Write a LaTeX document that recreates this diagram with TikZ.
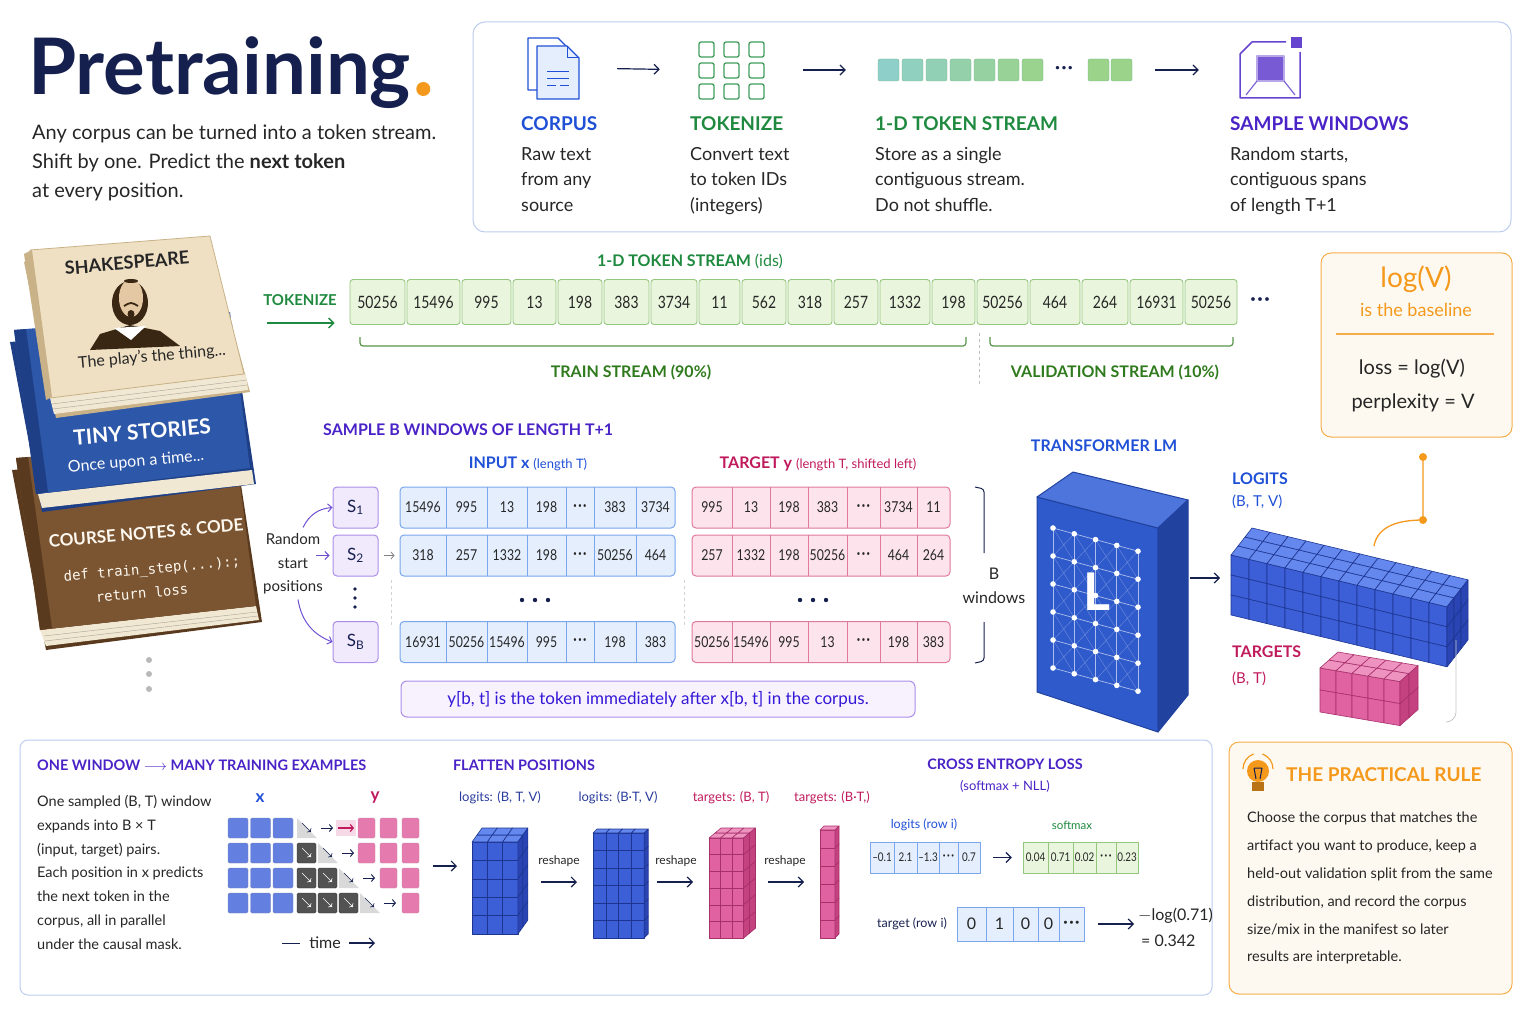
\documentclass[tikz,border=0pt]{standalone}
\usepackage{fontspec}
\setmainfont{Lato}
\setmonofont{DejaVu Sans Mono}
\newfontfamily\narrow{Lato}[FakeStretch=0.82]
\usetikzlibrary{arrows,arrows.meta,shapes.geometric,positioning}

\definecolor{navy}{HTML}{16204E}
\definecolor{ink}{HTML}{262626}
\definecolor{cblue}{HTML}{1F50D6}
\definecolor{lblue}{HTML}{2A3C9E}
\definecolor{cgreen}{HTML}{1F8A3F}
\definecolor{dgreen}{HTML}{2F7A1C}
\definecolor{cpurple}{HTML}{4A23C6}
\definecolor{cmag}{HTML}{C01A5C}
\definecolor{corange}{HTML}{F4991C}
\definecolor{panel}{HTML}{BCCDEF}
\definecolor{tokfill}{HTML}{E9F5DC}
\definecolor{tokline}{HTML}{94C77E}
\definecolor{infill}{HTML}{E4EEFD}
\definecolor{inline}{HTML}{79A6EC}
\definecolor{tgfill}{HTML}{FCE3EC}
\definecolor{tgline}{HTML}{E1799F}
\definecolor{sfill}{HTML}{F1EAFD}
\definecolor{sline}{HTML}{AB8DE8}
\definecolor{cream}{HTML}{FEF9F0}
\definecolor{bfront}{HTML}{3C5FD8}
\definecolor{btop}{HTML}{6588EE}
\definecolor{bside}{HTML}{2A45B3}
\definecolor{bline}{HTML}{1D3591}
\definecolor{pfront}{HTML}{E062A0}
\definecolor{ptop}{HTML}{EE92C0}
\definecolor{pside}{HTML}{C4427F}
\definecolor{pline}{HTML}{A8306A}
\definecolor{tfront}{HTML}{2F5ACB}
\definecolor{ttop}{HTML}{4E75DC}
\definecolor{tside}{HTML}{21429F}
\definecolor{bbrown}{HTML}{7B5431}
\definecolor{bbrownd}{HTML}{5A3A1E}
\definecolor{bblue}{HTML}{2D57A8}
\definecolor{bblued}{HTML}{1E3F86}
\definecolor{tanc}{HTML}{EFE0C4}
\definecolor{tand}{HTML}{C9B287}
\definecolor{page}{HTML}{F1E8D3}
\definecolor{stA}{HTML}{8ECFC9}
\definecolor{stB}{HTML}{9BD38A}

\newcommand{\fsz}[2]{\fontsize{#1}{#2}\selectfont}
\newcommand{\mdots}{{\bfseries ·\kern1.5pt·\kern1.5pt·}}
% cube colours and skew, set before each \cubes
\def\cF{bfront}\def\cT{btop}\def\cS{bside}\def\cL{bline}\def\csk{0}
% origin x, origin y, cols, rows, depth, width, height, depth dx, depth dy
\newcommand{\cubes}[9]{%
  \foreach \i in {1,...,#3}{\foreach \j in {1,...,#4}{
    \filldraw[fill=\cF,draw=\cL,line width=0.6] ({#1+(\i-1)*#6},{#2+(\i-1)*#6*\csk+(\j-1)*#7}) -- ++({#6},{#6*\csk}) -- ++(0,{#7}) -- ++({-1*(#6)},{-1*(#6)*\csk}) -- cycle;}}
  \foreach \i in {1,...,#3}{\foreach \k in {1,...,#5}{
    \filldraw[fill=\cT,draw=\cL,line width=0.6] ({#1+(\i-1)*#6+(\k-1)*#8},{#2+(\i-1)*#6*\csk+(\k-1)*#9}) -- ++({#6},{#6*\csk}) -- ++({#8},{#9}) -- ++({-1*(#6)},{-1*(#6)*\csk}) -- cycle;}}
  \foreach \j in {1,...,#4}{\foreach \k in {1,...,#5}{
    \filldraw[fill=\cS,draw=\cL,line width=0.6] ({#1+#3*#6+(\k-1)*#8},{#2+#3*#6*\csk+(\j-1)*#7+(\k-1)*#9}) -- ++({#8},{#9}) -- ++(0,{#7}) -- ++({-1*(#8)},{-1*(#9)}) -- cycle;}}
}

\tikzset{
  head/.style={inner sep=0, font=\bfseries\fsz{19}{19}},
  desc/.style={inner sep=0, anchor=north west, align=left, text=ink, font=\fsz{18}{25.5}},
  subhead/.style={inner sep=0, font=\bfseries\fsz{16}{16}},
  tok/.style={draw=tokline, fill=tokfill, line width=0.9, rounded corners=3, minimum height=45, inner sep=0, font=\narrow\fsz{17}{17}, text=ink},
  sbox/.style={draw=sline, fill=sfill, line width=1, rounded corners=4, minimum width=45, minimum height=41, inner sep=0, font=\fsz{17}{17}, text=navy},
  inrow/.style={draw=inline, fill=infill, line width=1, rounded corners=4, minimum height=41, inner sep=0},
  tgrow/.style={draw=tgline, fill=tgfill, line width=1, rounded corners=4, minimum height=41, inner sep=0},
  num/.style={inner sep=0, font=\narrow\fsz{15}{15}, text=ink},
  arr/.style={-{Straight Barb[length=5pt,width=10pt]}, navy, line width=1.2},
  icon/.style={inner sep=0, minimum height=60, minimum width=#1},
}

\begin{document}
\begin{tikzpicture}[x=1pt,y=-1pt,line join=round]
\useasboundingbox (0,0) rectangle (1536,1024);

% title
\node[anchor=base west, inner sep=0, text=navy, font=\bfseries\fsz{78}{78}] (title) at (28,95) {Pretraining};
\fill[corange] (title.base east) ++(12,-6) circle (7);
\node[anchor=north west, inner sep=0, align=left, text=ink, font=\fsz{20}{29}] (subt) at (32,125) {Any corpus can be turned into a token stream.\\Shift by one. Predict the \textbf{next token}\\at every position.};

% top pipeline panel
\draw[panel, line width=1, rounded corners=12] (473,22) rectangle (1511,232);
\node[icon=52] (icCorpus) at (553,68) {};
\filldraw[fill=white, draw=cblue, line width=1.2] (528,38) -- (558,38) -- (568,48) -- (568,90) -- (528,90) -- cycle;
\filldraw[fill=infill, draw=cblue, line width=1.2] (537,46) -- (567,46) -- (579,58) -- (579,99) -- (537,99) -- cycle;
\draw[cblue, line width=1] (567,46) -- (567,58) -- (579,58);
\draw[cblue, line width=1] (547,72) -- (569,72) (547,79) -- (569,79) (547,86) -- (556,86) (560,86) -- (569,86);
\node[icon=66] (icTok) at (732,70) {};
\foreach \c in {0,1,2} \foreach \r in {0,1,2}
  \draw[cgreen!85, line width=1.3, rounded corners=2] ({699+25*\c},{42+21*\r}) rectangle ++(15,15);
\node[icon=254] (icStream) at (1005,70) {};
\foreach \k [evaluate=\k as \p using 100-16*\k] in {0,...,6}
  \filldraw[fill=stA!\p!stB, draw=cgreen!60, rounded corners=2] ({878+24*\k},59) rectangle ++(21,22);
\node[inner sep=0, font=\fsz{18}{18}, text=navy] (sdots) at (1064,70) {\mdots};
\foreach \k in {0,1}
  \filldraw[fill=stB, draw=cgreen!60, rounded corners=2] ({1088+23*\k},59) rectangle ++(21,22);
\node[icon=62] (icWin) at (1271,70) {};
\draw[cpurple!85, line width=1.5] (1252,42) -- (1286,42) (1240,54) -- (1252,42) (1240,54) -- (1240,98) -- (1300,98) -- (1300,52);
\fill[cpurple!85] (1291,37) rectangle (1302,48);
\filldraw[fill=cpurple!75, draw=cpurple!40, line width=2] (1257,56) rectangle (1284,81);
\draw[cpurple!70, line width=1.2] (1257,81) -- (1246,95) (1284,81) -- (1295,95);
\draw[arr, shorten <=38, shorten >=39] (icCorpus.east) -- (icTok.west);
\draw[arr, shorten <=38, shorten >=32] (icTok.east) -- (icStream.west);
\draw[arr, shorten <=23, shorten >=41] (icStream.east) -- (icWin.west);
\node[head, text=cblue, anchor=west] (hCorpus) at (521,124) {CORPUS};
\node[head, text=cgreen, anchor=west] (hTok) at (690,124) {TOKENIZE};
\node[head, text=cgreen, anchor=west] (hStream) at (875,124) {1-D TOKEN STREAM};
\node[head, text=cpurple, anchor=west] (hWin) at (1230,124) {SAMPLE WINDOWS};
\node[desc] (dCorpus) at (521,147) {Raw text\\from any\\source};
\node[desc] (dTok) at (690,147) {Convert text\\to token IDs\\(integers)};
\node[desc] (dStream) at (875,147) {Store as a single\\contiguous stream.\\Do not shuffle.};
\node[desc] (dWin) at (1230,147) {Random starts,\\contiguous spans\\of length T+1};

% books
\fill[bbrownd] (12,470) -- (236,452) -- (262,622) -- (46,650) -- cycle;
\fill[page] (40,630) -- (256,606) -- (259,620) -- (46,646) -- cycle;
\draw[page!70!black, line width=.4] (44,636) -- (257,612) (45,641) -- (258,616);
\fill[bbrown] (16,458) -- (234,440) -- (256,606) -- (40,630) -- cycle;
\fill[bbrownd] (16,458) -- (28,457) -- (52,628) -- (40,630) -- cycle;
\node[rotate=5, inner sep=0, font=\bfseries\fsz{17}{17}, text=cream] (bkCode) at (146,533) {COURSE NOTES \& CODE};
\node[rotate=5, inner sep=0, font=\ttfamily\fsz{14}{14}, text=cream] (bkDef) at (152,570) {def train\_step(...):;};
\node[rotate=5, inner sep=0, font=\ttfamily\fsz{14}{14}, text=cream] (bkRet) at (142,593) {return loss};
\fill[bblued] (10,342) -- (232,324) -- (256,484) -- (42,512) -- cycle;
\fill[page] (38,494) -- (252,470) -- (254,484) -- (42,508) -- cycle;
\fill[bblue] (14,330) -- (230,312) -- (250,468) -- (36,494) -- cycle;
\fill[bblued] (14,330) -- (26,329) -- (48,492) -- (36,494) -- cycle;
\node[rotate=5, inner sep=0, font=\bfseries\fsz{21}{21}, text=white] (bkTiny) at (142,432) {TINY STORIES};
\node[rotate=5, inner sep=0, font=\fsz{16}{16}, text=white] (bkOnce) at (136,462) {Once upon a time...};
\fill[tand] (24,262) -- (210,246) -- (250,392) -- (56,418) -- cycle;
\fill[page] (50,398) -- (246,374) -- (248,390) -- (54,414) -- cycle;
\draw[page!70!black, line width=.4] (52,404) -- (247,380) (53,409) -- (247,385);
\filldraw[fill=tanc, draw=tand, line width=.8] (30,250) -- (210,236) -- (244,374) -- (50,398) -- cycle;
\fill[tand] (24,254) -- (32,250) -- (52,397) -- (46,400) -- cycle;
\node[rotate=5, inner sep=0, font=\bfseries\fsz{18}{18}, text=black!85] (bkShake) at (127,263) {SHAKESPEARE};
\fill[black!70!brown] (90,350) -- (100,334) -- (130,325) -- (160,331) -- (180,346) -- cycle;
\fill[black!70!brown] (130,303) ellipse (18 and 22);
\fill[tanc!75!brown] (131,298) ellipse (12 and 19);
\fill[black!70!brown] (131,281) ellipse (7 and 2);
\fill[white] (114,328) -- (146,326) -- (131,340) -- cycle;
\draw[black!70!brown, line width=1.8] (124,306) .. controls (131,302) .. (138,306);
\fill[black!70!brown] (131,314) ellipse (3.5 and 4);
\node[rotate=5, inner sep=0, font=\fsz{16}{16}, text=black!85] (bkPlay) at (152,357) {The play's the thing...};
\foreach \yy in {660,674,689} \fill[gray!55] (149,\yy) circle (3);

% token stream
\node[subhead, text=cgreen] (hIds) at (690,261) {1-D TOKEN STREAM \mdseries(ids)};
\node[inner sep=0, font=\bfseries\fsz{15}{15}, text=cgreen] (tokl) at (300,300) {TOKENIZE};
\foreach \a/\b/\l [count=\i] in {350/405/50256,407/460/15496,462/511/995,513/556/13,558/602/198,604/649/383,651/697/3734,699/740/11,742/786/562,788/832/318,834/878/257,880/930/1332,932/975/198,977/1028/50256,1030/1080/464,1082/1128/264,1130/1183/16931,1185/1237/50256}
  \node[tok, minimum width=\b-\a] (t\i) at ({(\a+\b)/2},302) {\l};
\node[inner sep=0, font=\fsz{20}{20}, text=navy] (tdots) at (1260,302) {\mdots};
\draw[-{Straight Barb[length=5pt,width=10pt]}, cgreen, line width=1.3, shorten >=15] (267,323) -- (t1.west |- 0,323);
\draw[dgreen!80, line width=1.2, rounded corners=3] (360,337) -- (360,346) -- (966,346) -- (966,337);
\draw[dgreen!80, line width=1.2, rounded corners=3] (990,337) -- (990,346) -- (1233,346) -- (1233,337);
\draw[gray!50, dashed, line width=.8] (979,333) -- (979,386);
\node[subhead, text=dgreen] (hTrain) at (631,372) {TRAIN STREAM (90\%)};
\node[subhead, text=dgreen] (hVal) at (1115,372) {VALIDATION STREAM (10\%)};

% baseline box
\filldraw[fill=cream, draw=corange!80, line width=1, rounded corners=10] (1321,253) rectangle (1512,437);
\node[inner sep=0, font=\fsz{28}{28}, text=corange] (logv) at (1416,279) {log(V)};
\node[inner sep=0, font=\fsz{18}{18}, text=corange] (logb) at (1416,310) {is the baseline};
\draw[corange!80, line width=1.2] (1336,334) -- (1494,334);
\node[inner sep=0, font=\fsz{20}{20}, text=ink] (lossv) at (1412,369) {loss = log(V)};
\node[inner sep=0, font=\fsz{20}{20}, text=ink] (pplv) at (1413,403) {perplexity = V};

% sample windows
\node[subhead, text=cpurple, anchor=west] (hSample) at (323,430) {SAMPLE B WINDOWS OF LENGTH T+1};
\node[inner sep=0, text=cblue] (hIn) at (528,464) {\bfseries\fsz{16}{16}INPUT x \mdseries\fsz{13}{13}(length T)};
\node[inner sep=0, text=cmag] (hTg) at (818,464) {\bfseries\fsz{16}{16}TARGET y \mdseries\fsz{13}{13}(length T, shifted left)};
\node[sbox] (s1) at (355.5,507.5) {S\textsubscript{1}};
\node[sbox] (s2) at (355.5,555.5) {S\textsubscript{2}};
\node[sbox] (s3) at (355.5,642) {S\textsubscript{B}};
\foreach \yy in {589,598,607} \fill[navy] (355,\yy) circle (1.8);
\node[inner sep=0, align=center, font=\fsz{15}{23.5}, text=ink] (rsp) at (293,564) {Random\\start\\positions};
\draw[-{Straight Barb[length=4pt,width=8pt]}, cpurple!80, line width=1] ([xshift=10,yshift=6]rsp.north) to[bend left=30] (s1.west);
\draw[-{Straight Barb[length=4pt,width=8pt]}, cpurple!80, line width=1, shorten >=3] ([xshift=-7]rsp.east |- s2.west) -- (s2.west);
\draw[-{Straight Barb[length=4pt,width=8pt]}, cpurple!80, line width=1] ([xshift=5,yshift=-5]rsp.south) to[bend right=30] (s3.west);
\foreach \r/\yy/\la/\lb/\lc/\ld/\le/\lf in {1/507.5/15496/995/13/198/383/3734, 2/555.5/318/257/1332/198/50256/464, 3/642/16931/50256/15496/995/198/383}{
  \node[inrow, minimum width=275] (x\r) at (537.5,\yy) {};
  \foreach \ex in {446,487,527,566,594,636} \draw[inline] (\ex,\yy-20.5) -- (\ex,\yy+20.5);
  \foreach \cx/\tx in {423/\la,466.5/\lb,507/\lc,546.5/\ld,580/\mdots,615/\le,655.5/\lf}
    \node[num] at (\cx,\yy) {\tx};
}
\foreach \r/\yy/\la/\lb/\lc/\ld/\le/\lf in {1/507.5/995/13/198/383/3734/11, 2/555.5/257/1332/198/50256/464/264, 3/642/50256/15496/995/13/198/383}{
  \node[tgrow, minimum width=258] (y\r) at (821,\yy) {};
  \foreach \ex in {732,770,808,847,880,917} \draw[tgline] (\ex,\yy-20.5) -- (\ex,\yy+20.5);
  \foreach \cx/\tx in {712/\la,751/\lb,789/\lc,827.5/\ld,863.5/\mdots,898.5/\le,933.5/\lf}
    \node[num] at (\cx,\yy) {\tx};
}
\draw[-{Straight Barb[length=3pt,width=7pt]}, gray, line width=.8, shorten <=5, shorten >=5] (s2.east) -- (x2.west);
\foreach \xx in {522,535,548} \fill[navy] (\xx,600) circle (2.2);
\foreach \xx in {800,813,826} \fill[navy] (\xx,600) circle (2.2);
\draw[gray!35, dashed, line width=.8] (391,580) -- (391,628) (684,580) -- (684,628);
\draw[navy, line width=1, rounded corners=3] (975,487) -- (984,489) -- (984,553) (984,622) -- (984,661) -- (975,663);
\node[inner sep=0, align=center, font=\fsz{16}{24}, text=ink] (bwin) at (994,586) {B\\windows};
\node[draw=sline, fill=sfill!60, rounded corners=6, minimum width=514, minimum height=36, line width=1, text=cpurple!70!blue, font=\fsz{17}{17}] (note) at (658,699) {y[b, t] is the token immediately after x[b, t] in the corpus.};

% transformer
\node[subhead, text=cblue] (hTf) at (1104,446) {TRANSFORMER LM};
\filldraw[fill=tfront, draw=tside, line width=1] (1037,497) -- (1158,528) -- (1158,732) -- (1037,692) -- cycle;
\filldraw[fill=ttop, draw=tside, line width=1] (1037,497) -- (1073,472) -- (1188,500) -- (1158,528) -- cycle;
\filldraw[fill=tside, draw=tside, line width=1] (1158,528) -- (1188,500) -- (1188,695) -- (1158,732) -- cycle;
\foreach \i in {0,...,4} \foreach \j in {0,...,5} \coordinate (g\i\j) at ({1053+21.25*\i},{528+28*\j+5.8*\i});
\foreach \i in {0,...,3} \foreach \j in {0,...,4} {
  \pgfmathtruncatemacro\ii{\i+1}\pgfmathtruncatemacro\jj{\j+1}
  \draw[white, opacity=.3, line width=.4] (g\i\j) -- (g\ii\jj) (g\ii\j) -- (g\i\jj);}
\foreach \i in {0,...,4} \draw[white, opacity=.6, line width=.7] (g\i0) -- (g\i5);
\foreach \j in {0,...,5} \draw[white, opacity=.6, line width=.7] (g0\j) -- (g4\j);
\foreach \i in {0,...,4} \foreach \j in {0,...,5} \fill[white] (g\i\j) circle (2.8);
\node[inner sep=0, font=\bfseries\fsz{52}{52}, text=white] (tfL) at (1097,592) {L};
\coordinate (tfR) at (1190,578);
\coordinate (lgL) at (1220,578);
\draw[arr] (tfR) -- (lgL);

% logits and targets
\node[inner sep=0, anchor=west, font=\bfseries\fsz{16}{16}, text=cblue] (hLog) at (1232,479) {LOGITS};
\node[inner sep=0, anchor=west, font=\fsz{15}{15}, text=cblue] (hLogS) at (1232,502) {(B, T, V)};
\def\csk{0.24}
\cubes{1231}{555}{12}{3}{3}{18}{20}{7}{-9}
\node[inner sep=0, anchor=west, font=\bfseries\fsz{16}{16}, text=cmag] (hTgt) at (1232,652) {TARGETS};
\node[inner sep=0, anchor=west, font=\fsz{15}{15}, text=cmag] (hTgtS) at (1232,679) {(B, T)};
\def\cF{pfront}\def\cT{ptop}\def\cS{pside}\def\cL{pline}\def\csk{0.17}
\cubes{1320}{668}{5}{2}{2}{16}{22}{9}{-8}
\fill[corange] (1423,457) circle (4);
\fill[corange] (1423,520) circle (4);
\draw[corange, line width=1.3] (1423,457) -- (1423,520) to[out=180,in=80] (1374,546);
\draw[gray!45, line width=.8] (1456,640) -- (1456,712) to[out=-90,in=0] (1446,722);

% bottom panel
\draw[panel, line width=1, rounded corners=8] (20,740) rectangle (1212,995);
\node[inner sep=0, anchor=west, font=\bfseries\fsz{14.5}{14.5}, text=cpurple] (hOne) at (37,765) {ONE WINDOW $\longrightarrow$ MANY TRAINING EXAMPLES};
\node[anchor=north west, inner sep=0, align=left, font=\fsz{14.5}{23.8}, text=ink] (para) at (37,795) {One sampled (B, T) window\\expands into B × T\\(input, target) pairs.\\Each position in x predicts\\the next token in the\\corpus, all in parallel\\under the causal mask.};
\node[inner sep=0, font=\bfseries\fsz{17}{17}, text=cblue] (gx) at (260,798) {x};
\node[inner sep=0, font=\bfseries\fsz{17}{17}, text=cmag] (gy) at (375,798) {y};
\foreach \r/\n in {0/0,1/0,2/1,3/2}{
  \pgfmathsetmacro\yt{818+25*\r}
  \foreach \c in {0,1,2} \filldraw[fill=bfront!80, draw=bline!60, rounded corners=1.5] ({228+22.5*\c},\yt) rectangle ++(20,20);
  \ifnum\r>0 \foreach \c in {1,...,\r}{
    \filldraw[fill=black!68, draw=black!80, rounded corners=1.5] ({297+21*(\c-1)},\yt) rectangle ++(19,20);
    \draw[->, white!75, line width=.6] ({297+21*(\c-1)+5},\yt+5) -- ++(9,9);} \fi
  \fill[gray!30] ({297+21*\r},\yt) -- ++(0,20) -- ++(20,0) -- cycle;
  \draw[->, navy, line width=.6] ({297+21*\r+5},\yt+5) -- ++(9,9);
  \draw[-{Straight Barb[length=3pt,width=7pt]}, navy, line width=1] ({297+21*\r+24},\yt+10) -- ++(12,0);
  \foreach \c in {\n,...,2} \filldraw[fill=pfront!85, draw=pline!60, rounded corners=1.5] ({358+22*\c},\yt) rectangle ++(17,20);
}
\fill[pfront!25] (336,820) rectangle (356,836);
\draw[-{Straight Barb[length=3pt,width=7pt]}, cmag, line width=1.2] (338,828) -- (354,828);
\draw[navy, line width=1] (282,943) -- (300,943);
\node[inner sep=0, font=\fsz{16}{16}, text=ink] (gtime) at (325,943) {time};
\draw[arr] (349,943) -- (375,943);
\coordinate (gOut) at (433,866);
\coordinate (fIn) at (457,866);
\draw[arr] (gOut) -- (fIn);

% flatten positions
\node[inner sep=0, font=\bfseries\fsz{14.5}{14.5}, text=cpurple] (hFlat) at (524,765) {FLATTEN POSITIONS};
\node[inner sep=0, font=\fsz{13}{13}, text=lblue] (fl1) at (500,798) {logits: (B, T, V)};
\node[inner sep=0, font=\fsz{13}{13}, text=lblue] (fl2) at (618,798) {logits: (B·T, V)};
\node[inner sep=0, font=\fsz{13}{13}, text=cmag] (fl3) at (731,798) {targets: (B, T)};
\node[inner sep=0, font=\fsz{13}{13}, text=cmag] (fl4) at (832,798) {targets: (B·T,)};
\def\cF{bfront}\def\cT{btop}\def\cS{bside}\def\cL{bline}\def\csk{0}
\cubes{472}{842}{3}{5}{2}{15.3}{18.4}{5}{-7}
\cubes{593}{833}{4}{6}{1}{12.8}{17.5}{4}{-4}
\def\cF{pfront}\def\cT{ptop}\def\cS{pside}\def\cL{pline}
\cubes{709}{838}{3}{6}{2}{11.5}{16.7}{6}{-5}
\cubes{820}{830}{1}{6}{1}{15}{18}{4}{-4}
\foreach \rx/\ax in {559/541,676/657,785/768}{
  \node[inner sep=0, font=\fsz{12}{12}, text=ink] at (\rx,861) {reshape};
  \draw[arr] (\ax,882) -- ++(36,0);}

% cross entropy
\node[inner sep=0, font=\bfseries\fsz{14.5}{14.5}, text=cpurple] (hCE) at (1005,764) {CROSS ENTROPY LOSS};
\node[inner sep=0, font=\fsz{13}{13}, text=cpurple] (hCE2) at (1005,786) {(softmax + NLL)};
\node[inner sep=0, font=\fsz{12.5}{12.5}, text=cblue] (ceL) at (924,825) {logits (row i)};
\node[inner sep=0, font=\fsz{11.5}{11.5}, text=cgreen] (ceS) at (1072,825) {softmax};
\foreach \a/\b/\l in {870/894/\textendash0.1,894/917/2.1,917/939/\textendash1.3,939/958/\mdots,958/980/0.7}
  \node[draw=inline, fill=infill, line width=.8, minimum width=\b-\a, minimum height=31, inner sep=0, font=\narrow\fsz{12}{12}, text=ink] at ({(\a+\b)/2},857.5) {\l};
\node[inner sep=0, minimum width=110, minimum height=31] (ceLrow) at (925,857.5) {};
\foreach \a/\b/\l in {1023/1048/0.04,1048/1073/0.71,1073/1096/0.02,1096/1116/\mdots,1116/1138/0.23}
  \node[draw=tokline, fill=tokfill, line width=.8, minimum width=\b-\a, minimum height=31, inner sep=0, font=\narrow\fsz{12}{12}, text=ink] at ({(\a+\b)/2},857.5) {\l};
\node[inner sep=0, minimum width=115, minimum height=31] (ceSrow) at (1080.5,857.5) {};
\draw[arr, shorten <=13, shorten >=11] (ceLrow.east) -- (ceSrow.west);
\node[inner sep=0, font=\fsz{12.5}{12.5}, text=navy] (ceT) at (912,924) {target (row i)};
\foreach \a/\b/\l in {957/986/0,986/1013/1,1013/1038/0,1038/1059/0,1059/1084/\mdots}
  \node[draw=inline, fill=infill, line width=.8, minimum width=\b-\a, minimum height=34, inner sep=0, font=\fsz{16}{16}, text=ink] at ({(\a+\b)/2},924) {\l};
\node[inner sep=0, minimum width=127, minimum height=34] (ceTrow) at (1020.5,924) {};
\node[inner sep=0, anchor=west, font=\fsz{16}{16}, text=ink] (ceV1) at (1138,916) {$-$log(0.71)};
\node[inner sep=0, anchor=west, font=\fsz{16}{16}, text=ink] (ceV2) at (1141,941) {= 0.342};
\draw[arr, shorten <=14, shorten >=4] (ceTrow.east) -- (ceV1.west |- ceTrow.east);

% practical rule
\filldraw[fill=cream, draw=corange!80, line width=1, rounded corners=10] (1229,742) rectangle (1512,994);
\draw[corange, line width=1.2] (1243,769) arc[start angle=180, end angle=250, radius=16];
\draw[corange, line width=1.2] (1273,769) arc[start angle=0, end angle=-70, radius=16];
\fill[corange] (1258,771) circle (11);
\fill[corange!75!black] (1252,782) rectangle (1264,791);
\draw[navy, line width=1] (1254,768) -- (1256,779) (1262,768) -- (1260,779) (1254,768) -- (1262,768);
\node[inner sep=0, anchor=west, font=\bfseries\fsz{19}{19}, text=corange] (hRule) at (1286,775) {THE PRACTICAL RULE};
\node[anchor=north west, inner sep=0, align=left, font=\fsz{14.5}{27.8}, text=ink] (ruletxt) at (1247,812) {Choose the corpus that matches the\\artifact you want to produce, keep a\\held-out validation split from the same\\distribution, and record the corpus\\size/mix in the manifest so later\\results are interpretable.};
\end{tikzpicture}
\end{document}
